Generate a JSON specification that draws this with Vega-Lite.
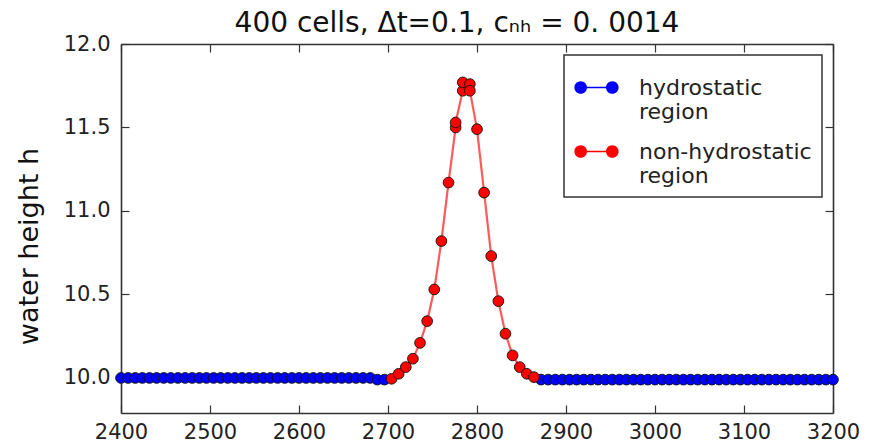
{
"$schema": "https://vega.github.io/schema/vega-lite/v6.json",
"width": 712, "height": 369,
"autosize": "none",
"padding": {"left": 121, "top": 44, "right": 36, "bottom": 30},
"background": "white",
"config": {"view": {"stroke": null}, "font": "DejaVu Sans",
  "legend": {"strokeColor": "#333", "strokeWidth": 1.5, "fillColor": "white", "padding": 10}},
"title": {"text": "400 cells, Δt=0.1, cₙₕ = 0. 0014", "fontSize": 28, "font": "DejaVu Sans", "fontWeight": "normal", "color": "#111", "offset": -5, "dx": -20, "anchor": "middle"},
"data": {"values": [
{"x":2400,"h":10.0,"r":"hydrostatic","s":"L","o":2400},{"x":2408,"h":10.0,"r":"hydrostatic","s":"L","o":2408},{"x":2416,"h":10.0,"r":"hydrostatic","s":"L","o":2416},{"x":2424,"h":10.0,"r":"hydrostatic","s":"L","o":2424},{"x":2432,"h":10.0,"r":"hydrostatic","s":"L","o":2432},{"x":2440,"h":10.0,"r":"hydrostatic","s":"L","o":2440},{"x":2448,"h":10.0,"r":"hydrostatic","s":"L","o":2448},{"x":2456,"h":10.0,"r":"hydrostatic","s":"L","o":2456},{"x":2464,"h":10.0,"r":"hydrostatic","s":"L","o":2464},{"x":2472,"h":10.0,"r":"hydrostatic","s":"L","o":2472},
{"x":2480,"h":10.0,"r":"hydrostatic","s":"L","o":2480},{"x":2488,"h":10.0,"r":"hydrostatic","s":"L","o":2488},{"x":2496,"h":10.0,"r":"hydrostatic","s":"L","o":2496},{"x":2504,"h":10.0,"r":"hydrostatic","s":"L","o":2504},{"x":2512,"h":10.0,"r":"hydrostatic","s":"L","o":2512},{"x":2520,"h":10.0,"r":"hydrostatic","s":"L","o":2520},{"x":2528,"h":10.0,"r":"hydrostatic","s":"L","o":2528},{"x":2536,"h":10.0,"r":"hydrostatic","s":"L","o":2536},{"x":2544,"h":10.0,"r":"hydrostatic","s":"L","o":2544},{"x":2552,"h":10.0,"r":"hydrostatic","s":"L","o":2552},
{"x":2560,"h":10.0,"r":"hydrostatic","s":"L","o":2560},{"x":2568,"h":10.0,"r":"hydrostatic","s":"L","o":2568},{"x":2576,"h":10.0,"r":"hydrostatic","s":"L","o":2576},{"x":2584,"h":10.0,"r":"hydrostatic","s":"L","o":2584},{"x":2592,"h":10.0,"r":"hydrostatic","s":"L","o":2592},{"x":2600,"h":10.0,"r":"hydrostatic","s":"L","o":2600},{"x":2608,"h":10.0,"r":"hydrostatic","s":"L","o":2608},{"x":2616,"h":10.0,"r":"hydrostatic","s":"L","o":2616},{"x":2624,"h":10.0,"r":"hydrostatic","s":"L","o":2624},{"x":2632,"h":10.0,"r":"hydrostatic","s":"L","o":2632},
{"x":2640,"h":10.0,"r":"hydrostatic","s":"L","o":2640},{"x":2648,"h":10.0,"r":"hydrostatic","s":"L","o":2648},{"x":2656,"h":10.0,"r":"hydrostatic","s":"L","o":2656},{"x":2664,"h":10.0,"r":"hydrostatic","s":"L","o":2664},{"x":2672,"h":10.0,"r":"hydrostatic","s":"L","o":2672},{"x":2680,"h":10.0,"r":"hydrostatic","s":"L","o":2680},{"x":2688,"h":9.99,"r":"hydrostatic","s":"L","o":2688},{"x":2696,"h":9.99,"r":"hydrostatic","s":"L","o":2696},
{"x":2872,"h":9.99,"r":"hydrostatic","s":"R","o":2872},{"x":2880,"h":9.99,"r":"hydrostatic","s":"R","o":2880},{"x":2888,"h":9.99,"r":"hydrostatic","s":"R","o":2888},{"x":2896,"h":9.99,"r":"hydrostatic","s":"R","o":2896},{"x":2904,"h":9.99,"r":"hydrostatic","s":"R","o":2904},{"x":2912,"h":9.99,"r":"hydrostatic","s":"R","o":2912},{"x":2920,"h":9.99,"r":"hydrostatic","s":"R","o":2920},{"x":2928,"h":9.99,"r":"hydrostatic","s":"R","o":2928},{"x":2936,"h":9.99,"r":"hydrostatic","s":"R","o":2936},{"x":2944,"h":9.99,"r":"hydrostatic","s":"R","o":2944},
{"x":2952,"h":9.99,"r":"hydrostatic","s":"R","o":2952},{"x":2960,"h":9.99,"r":"hydrostatic","s":"R","o":2960},{"x":2968,"h":9.99,"r":"hydrostatic","s":"R","o":2968},{"x":2976,"h":9.99,"r":"hydrostatic","s":"R","o":2976},{"x":2984,"h":9.99,"r":"hydrostatic","s":"R","o":2984},{"x":2992,"h":9.99,"r":"hydrostatic","s":"R","o":2992},{"x":3000,"h":9.99,"r":"hydrostatic","s":"R","o":3000},{"x":3008,"h":9.99,"r":"hydrostatic","s":"R","o":3008},{"x":3016,"h":9.99,"r":"hydrostatic","s":"R","o":3016},{"x":3024,"h":9.99,"r":"hydrostatic","s":"R","o":3024},
{"x":3032,"h":9.99,"r":"hydrostatic","s":"R","o":3032},{"x":3040,"h":9.99,"r":"hydrostatic","s":"R","o":3040},{"x":3048,"h":9.99,"r":"hydrostatic","s":"R","o":3048},{"x":3056,"h":9.99,"r":"hydrostatic","s":"R","o":3056},{"x":3064,"h":9.99,"r":"hydrostatic","s":"R","o":3064},{"x":3072,"h":9.99,"r":"hydrostatic","s":"R","o":3072},{"x":3080,"h":9.99,"r":"hydrostatic","s":"R","o":3080},{"x":3088,"h":9.99,"r":"hydrostatic","s":"R","o":3088},{"x":3096,"h":9.99,"r":"hydrostatic","s":"R","o":3096},{"x":3104,"h":9.99,"r":"hydrostatic","s":"R","o":3104},
{"x":3112,"h":9.99,"r":"hydrostatic","s":"R","o":3112},{"x":3120,"h":9.99,"r":"hydrostatic","s":"R","o":3120},{"x":3128,"h":9.99,"r":"hydrostatic","s":"R","o":3128},{"x":3136,"h":9.99,"r":"hydrostatic","s":"R","o":3136},{"x":3144,"h":9.99,"r":"hydrostatic","s":"R","o":3144},{"x":3152,"h":9.99,"r":"hydrostatic","s":"R","o":3152},{"x":3160,"h":9.99,"r":"hydrostatic","s":"R","o":3160},{"x":3168,"h":9.99,"r":"hydrostatic","s":"R","o":3168},{"x":3176,"h":9.99,"r":"hydrostatic","s":"R","o":3176},{"x":3184,"h":9.99,"r":"hydrostatic","s":"R","o":3184},
{"x":3192,"h":9.99,"r":"hydrostatic","s":"R","o":3192},{"x":3200,"h":9.99,"r":"hydrostatic","s":"R","o":3200},
{"x":2704,"h":9.995,"r":"non-hydrostatic","s":"N","o":1},{"x":2712,"h":10.025,"r":"non-hydrostatic","s":"N","o":2},{"x":2720,"h":10.065,"r":"non-hydrostatic","s":"N","o":3},{"x":2728,"h":10.115,"r":"non-hydrostatic","s":"N","o":4},{"x":2736,"h":10.21,"r":"non-hydrostatic","s":"N","o":5},{"x":2744,"h":10.34,"r":"non-hydrostatic","s":"N","o":6},{"x":2752,"h":10.53,"r":"non-hydrostatic","s":"N","o":7},{"x":2760,"h":10.82,"r":"non-hydrostatic","s":"N","o":8},{"x":2768,"h":11.17,"r":"non-hydrostatic","s":"N","o":9},
{"x":2776,"h":11.5,"r":"non-hydrostatic","s":"N","o":10},{"x":2776,"h":11.53,"r":"non-hydrostatic","s":"N","o":11},{"x":2784,"h":11.72,"r":"non-hydrostatic","s":"N","o":12},{"x":2784,"h":11.77,"r":"non-hydrostatic","s":"N","o":13},{"x":2792,"h":11.76,"r":"non-hydrostatic","s":"N","o":14},{"x":2792,"h":11.72,"r":"non-hydrostatic","s":"N","o":15},{"x":2800,"h":11.49,"r":"non-hydrostatic","s":"N","o":16},
{"x":2808,"h":11.11,"r":"non-hydrostatic","s":"N","o":17},{"x":2816,"h":10.73,"r":"non-hydrostatic","s":"N","o":18},{"x":2824,"h":10.46,"r":"non-hydrostatic","s":"N","o":19},{"x":2832,"h":10.265,"r":"non-hydrostatic","s":"N","o":20},{"x":2840,"h":10.135,"r":"non-hydrostatic","s":"N","o":21},{"x":2848,"h":10.065,"r":"non-hydrostatic","s":"N","o":22},{"x":2856,"h":10.025,"r":"non-hydrostatic","s":"N","o":23},{"x":2864,"h":10.005,"r":"non-hydrostatic","s":"N","o":24}
]},
"layer": [
 {"mark": {"type": "line", "strokeWidth": 2.2},
  "encoding": {
   "x": {"field": "x", "type": "quantitative", "scale": {"domain": [2400, 3200], "nice": false, "zero": false},
     "axis": {"orient": "bottom", "values": [2400,2500,2600,2700,2800,2900,3000,3100,3200], "format": "d", "title": null, "grid": false,
       "tickSize": -8, "tickColor": "#333", "tickWidth": 1.2, "labelPadding": 16, "labelFontSize": 21, "labelColor": "#222", "labelFont": "DejaVu Sans",
       "domainColor": "#333", "domainWidth": 1.6, "labelFlush": false}},
   "y": {"field": "h", "type": "quantitative", "scale": {"domain": [9.79, 12.0], "nice": false, "zero": false},
     "axis": {"orient": "left", "values": [10,10.5,11,11.5,12], "format": ".1f", "title": "water height h", "grid": false,
       "titleFontSize": 27, "titleFontWeight": "normal", "titleColor": "#111", "titleFont": "DejaVu Sans", "titlePadding": 20, "titleY": 202,
       "tickSize": -8, "tickColor": "#333", "tickWidth": 1.2, "labelPadding": 19, "labelFontSize": 21, "labelColor": "#222", "labelFont": "DejaVu Sans",
       "domainColor": "#333", "domainWidth": 1.6, "labelFlush": false}},
   "stroke": {"field": "s", "type": "nominal", "scale": {"domain": ["L", "R", "N"], "range": ["#0000ff", "#0000ff", "#ff5a5a"]}, "legend": null},
   "order": {"field": "o", "type": "quantitative"}
  }},
 {"mark": {"type": "point", "filled": true, "size": 115, "stroke": "#111", "strokeWidth": 0.9, "opacity": 1},
  "encoding": {
   "x": {"field": "x", "type": "quantitative", "axis": null},
   "y": {"field": "h", "type": "quantitative", "axis": null},
   "color": {"field": "r", "type": "nominal", "scale": {"domain": ["hydrostatic", "non-hydrostatic"], "range": ["#0000ff", "#ff0000"]},
     "legend": {"orient": "top-right", "offset": 11, "title": null,
       "labelExpr": "[datum.label, '\u00a0\u00a0region']", "labelFontSize": 22, "labelFont": "DejaVu Sans", "labelColor": "#222", "labelLimit": 400, "labelOffset": 20,
       "symbolType": "M -1 0 A 0.285 0.285 0 1 0 -0.43 0 A 0.285 0.285 0 1 0 -1 0 Z M 0.43 0 A 0.285 0.285 0 1 0 1 0 A 0.285 0.285 0 1 0 0.43 0 Z M -0.43 -0.035 L 0.43 -0.035 L 0.43 0.035 L -0.43 0.035 Z",
       "symbolSize": 1954, "symbolStrokeWidth": 0, "symbolOpacity": 1, "rowPadding": 6,
       "encode": {"labels": {"update": {"lineHeight": {"value": 28}}}}}}
  }},
 {"mark": {"type": "point", "opacity": 0},
  "encoding": {
   "x": {"field": "x", "type": "quantitative", "scale": {"domain": [2400, 3200], "nice": false, "zero": false},
     "axis": {"orient": "top", "values": [2400,2500,2600,2700,2800,2900,3000,3100,3200], "labels": false, "title": null, "grid": false,
       "tickSize": -8, "tickColor": "#333", "tickWidth": 1.2, "domainColor": "#333", "domainWidth": 1.6}},
   "y": {"field": "h", "type": "quantitative", "scale": {"domain": [9.79, 12.0], "nice": false, "zero": false},
     "axis": {"orient": "right", "values": [10,10.5,11,11.5,12], "labels": false, "title": null, "grid": false,
       "tickSize": -8, "tickColor": "#333", "tickWidth": 1.2, "domainColor": "#333", "domainWidth": 1.6}}
  }}
],
"resolve": {"axis": {"x": "independent", "y": "independent"}}
}
